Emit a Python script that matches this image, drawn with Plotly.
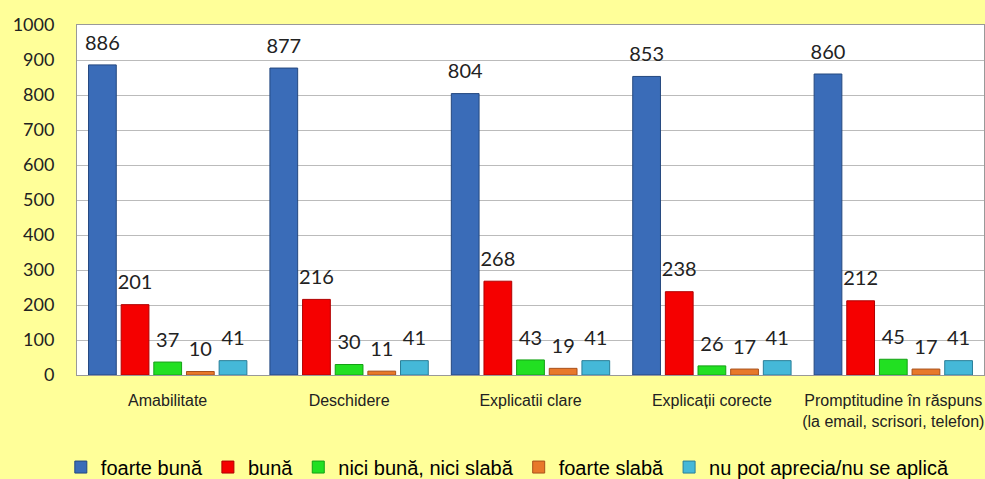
import plotly.graph_objects as go

categories = ["Amabilitate", "Deschidere", "Explicatii clare", "Explicații corecte",
              "Promptitudine în răspuns<br>(la email, scrisori, telefon)"]
series_names = ["foarte bună", "bună", "nici bună, nici slabă", "foarte slabă",
                "nu pot aprecia/nu se aplică"]
foarte_buna = [886, 877, 804, 853, 860]
buna = [201, 216, 268, 238, 212]
nici = [37, 30, 43, 26, 45]
foarte_slaba = [10, 11, 19, 17, 17]
nu_pot = [41, 41, 41, 41, 41]
y_ticks = [0, 100, 200, 300, 400, 500, 600, 700, 800, 900, 1000]

series_values = [foarte_buna, buna, nici, foarte_slaba, nu_pot]
colors = ["#3A6CB8", "#F50000", "#22E022", "#E8782A", "#45B8D8"]
edges = ["#24487F", "#B00000", "#14A014", "#A8501A", "#2A7E98"]

fig = go.Figure()
for i, (name, vals) in enumerate(zip(series_names, series_values)):
    fig.add_trace(go.Bar(
        x=categories, y=vals, name=name, offsetgroup=str(i),
        marker=dict(color=colors[i], line=dict(color=edges[i], width=1)),
        hoverinfo="skip",
    ))
for i, vals in enumerate(series_values):
    fig.add_trace(go.Scatter(
        x=categories, y=vals, mode="markers+text", offsetgroup=str(i),
        text=[str(v) for v in vals], textposition="top center",
        textfont=dict(family="Lato", size=20, color="#222222"),
        marker=dict(size=15, opacity=0), showlegend=False, hoverinfo="skip",
        cliponaxis=False,
    ))

fig.update_layout(
    width=985, height=479,
    paper_bgcolor="#FFFF99", plot_bgcolor="#FFFFFF",
    margin=dict(l=77, r=1, t=25, b=104, autoexpand=False),
    barmode="group", scattermode="group",
    bargap=0.1, bargroupgap=0.15,
    showlegend=True,
    legend=dict(orientation="h", x=0.475, xanchor="center", y=-0.263, yanchor="middle",
                font=dict(family="Liberation Sans", size=20, color="#000000"),
                bgcolor="rgba(0,0,0,0)", itemwidth=30, tracegroupgap=0),
    xaxis=dict(showline=True, linecolor="#999999", linewidth=1, mirror=True,
               tickfont=dict(family="Liberation Sans", size=16, color="#222222"),
               ticklabelstandoff=11),
    yaxis=dict(range=[0, 1000], tickvals=y_ticks, showgrid=True, gridcolor="#BBBBBB",
               gridwidth=1, showline=True, linecolor="#999999", mirror=True,
               zeroline=False,
               tickfont=dict(family="Lato", size=18, color="#222222"),
               ticklabelstandoff=18),
)
fig.write_html("out.html", config={"displayModeBar": False},
               post_script="document.body.style.margin='0';")
